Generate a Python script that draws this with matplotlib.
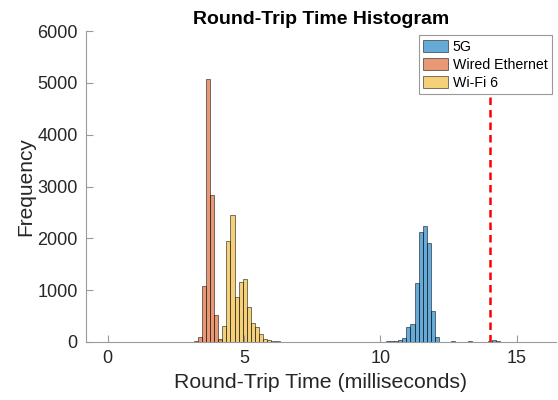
import numpy as np
import matplotlib.pyplot as plt

plt.rcParams['font.family'] = ['Liberation Sans', 'DejaVu Sans']

# bin width shared by all three histograms (edges at multiples of it)
bin_w = 0.15

# 5G
g5_start = 10.05
g5_counts = [5, 10, 15, 25, 35, 77, 280, 345, 1130, 2115, 2235, 1905, 600, 88,
             8, 3, 2, 25, 8, 3, 3, 15, 3, 2, 3, 8, 15, 45, 15, 5]

# Wired Ethernet
eth_start = 3.15
eth_counts = [10, 105, 1090, 5070, 2840, 515, 40]

# Wi-Fi 6
wifi_start = 4.05
wifi_counts = [60, 315, 1945, 2445, 872, 1165, 1210, 680, 370, 296, 145, 62,
               38, 20, 10, 5]

labels = ['5G', 'Wired Ethernet', 'Wi-Fi 6']
colors = ['#0072BD', '#D95319', '#EDB120']
threshold = 14

fig = plt.figure(figsize=(5.58, 4.0), dpi=100)
ax = fig.add_axes([0.154, 0.145, 0.842, 0.7775])

series = [(g5_start, g5_counts), (eth_start, eth_counts), (wifi_start, wifi_counts)]
for (start, counts), lab, col in zip(series, labels, colors):
    k0 = int(round(start / bin_w))
    edges = (k0 + np.arange(len(counts) + 1)) * bin_w
    ax.hist(edges[:-1], bins=edges, weights=counts, color=col, alpha=0.6,
            edgecolor='black', linewidth=0.6, label=lab)

ax.axvline(threshold, color='red', linestyle=(0, (3, 2)), linewidth=1.8, zorder=1)

ax.set_xlim(-0.8, 16.43)
ax.set_ylim(0, 6000)
ax.set_xticks([0, 5, 10, 15])
ax.set_yticks(np.arange(0, 6001, 1000))

for s in ['top', 'right']:
    ax.spines[s].set_visible(False)
for s in ['left', 'bottom']:
    ax.spines[s].set_color('#9a9a9a')
    ax.spines[s].set_linewidth(0.8)
ax.tick_params(direction='in', length=5, width=0.8, color='#9a9a9a',
               labelsize=13, labelcolor='#262626', pad=6)

ax.set_xlabel('Round-Trip Time (milliseconds)', fontsize=15.3, color='#262626')
ax.set_ylabel('Frequency', fontsize=15, color='#262626', labelpad=1)
ax.set_title('Round-Trip Time Histogram', fontsize=14, fontweight='bold', pad=5)

leg = ax.legend(loc='upper right', fontsize=10.2, fancybox=False, framealpha=1,
                edgecolor='#999999', handlelength=1.75, handleheight=1.0,
                labelspacing=0.28, borderpad=0.3, handletextpad=0.35,
                borderaxespad=0.3)
leg.get_frame().set_linewidth(0.8)

fig.savefig('out.png', dpi=100)
